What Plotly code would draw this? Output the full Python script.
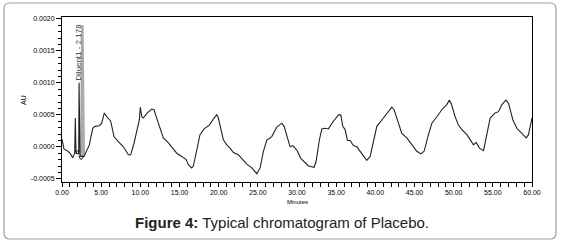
import plotly.graph_objects as go

# ---- data ----
minutes = [0, 0.26, 0.68, 1.02, 1.37, 1.62, 1.70, 1.79, 2.13, 2.18, 2.30, 2.52, 2.81, 3.15, 3.49,
           3.92, 4.21, 4.76, 5.07, 5.40, 5.71, 6.22, 6.64, 7.19, 7.83, 8.47, 8.77, 9.20, 9.62,
           9.87, 10.00, 10.18, 10.38, 10.89, 11.46, 11.75, 12.30, 12.94, 13.45, 14.01, 14.21,
           14.65, 15.29, 15.84, 16.13, 16.56, 16.77, 17.20, 17.62, 18.14, 18.81, 19.41, 19.76,
           19.96, 20.60, 21.03, 21.46, 21.88, 22.52, 23.08, 23.59, 24.23, 24.87, 25.29, 25.71,
           26.14, 26.78, 27.42, 28.06, 28.35, 28.70, 29.12, 29.46, 29.97, 30.49, 30.91, 31.46,
           32.18, 32.44, 32.86, 33.17, 33.59, 34.01, 34.65, 35.29, 35.59, 35.85, 36.14, 36.44,
           36.78, 37.20, 37.64, 38.28, 38.91, 39.34, 39.76, 40.19, 40.83, 41.47, 42.11, 42.40,
           42.95, 43.38, 44.02, 44.66, 45.30, 45.81, 46.23, 46.78, 47.22, 47.85, 48.49, 49.13,
           49.43, 49.68, 50.19, 50.61, 51.05, 51.69, 52.11, 52.53, 52.87, 53.30, 53.81, 54.24,
           54.66, 55.30, 55.72, 56.16, 56.67, 57.00, 57.56, 58.07, 58.71, 59.26, 59.55, 60.0]

au = [0.00012, -0.000036, -0.00006, -0.0001, -0.00017, -0.0001, 0.00045, -0.0001, -0.00011,
      0.0010, -0.00014, -0.00015, -0.00015, -0.00007, 0.00003, 0.00029, 0.00032, 0.00033,
      0.00037, 0.00053, 0.00047, 0.0004, 0.00016, 0.00008, 0.0, -0.000125, -0.000125, 0.00006,
      0.00032, 0.00042, 0.00062, 0.00047, 0.00045, 0.00053, 0.00059, 0.00058, 0.00037, 0.00014,
      0.00008, 0.0, -0.00002, -0.0001, -0.00015, -0.0002, -0.00028, -0.00033, -0.0003, -0.00005,
      0.00019, 0.00028, 0.00034, 0.00045, 0.0005, 0.00045, 0.00011, 0.00003, -0.00002, -0.00009,
      -0.000125, -0.0002, -0.00027, -0.00033, -0.00042, -0.00033, -0.00007, 0.0001, 0.00016,
      0.00031, 0.00037, 0.00032, 0.00016, 0.0, 0.00002, -0.00005, -0.00018, -0.00023, -0.0003,
      -0.00032, -0.00023, 0.00011, 0.00028, 0.00029, 0.00028, 0.0004, 0.0005, 0.0005, 0.00032,
      0.00027, 0.0001, 0.0001, 0.00002, 0.0, -0.0001, -0.00021, -0.00015, 0.00011, 0.00032,
      0.00042, 0.00053, 0.00062, 0.00058, 0.00037, 0.00021, 0.00014, 0.00003, -0.00007, -0.00011,
      -0.00007, 0.00019, 0.00037, 0.00047, 0.00058, 0.00066, 0.00073, 0.00068, 0.00047, 0.00034,
      0.00027, 0.00019, 0.00011, 0.00003, 0.00007, -0.00002, -0.00006, 0.00021, 0.00045, 0.00053,
      0.00055, 0.00066, 0.00073, 0.00068, 0.00042, 0.00029, 0.00021, 0.00014, 0.00019, 0.00045]

# integrated diluent peak (grey) and its baseline markers
peak_minutes = [2.45, 2.60, 2.78]
peak_au = [-0.00016, 0.0019, -0.00016]
marker_minutes = [1.98, 2.45]
marker_au = [-0.00008, -0.00017]
peak_label = "Diluent1 - 2.178"
peak_label_x = 2.0
peak_label_y = 0.00148

x_ticks = [0, 5, 10, 15, 20, 25, 30, 35, 40, 45, 50, 55, 60]
x_ticklabels = ["%.2f" % v for v in x_ticks]
y_ticks = [-0.0005, 0.0, 0.0005, 0.0010, 0.0015, 0.0020]
y_ticklabels = ["-0.0005", "0.0000", "0.0005", "0.0010", "0.0015", "0.0020"]

caption_bold = "Figure 4:"
caption_text = " Typical chromatogram of Placebo."

# ---- figure ----
fig = go.Figure()
fig.add_trace(go.Scatter(x=peak_minutes, y=peak_au, mode="lines",
                         line=dict(color="#aaaaaa", width=2.5), hoverinfo="skip"))
fig.add_trace(go.Scatter(x=minutes, y=au, mode="lines",
                         line=dict(color="#222222", width=1.1)))
fig.add_trace(go.Scatter(x=marker_minutes, y=marker_au, mode="markers",
                         marker=dict(symbol="triangle-down-open", size=4,
                                     color="#222222", line=dict(width=1))))

W, H = 561, 245
L, R, T, B = 62, 29, 17, 63
pw, ph = W - L - R, H - T - B

def px2x(px):
    return (px - L) / pw

def py2y(py):
    return (H - B - py) / ph

tick_font = dict(family="Liberation Sans, Arial", size=7, color="#000000")

fig.update_layout(
    width=W, height=H,
    margin=dict(l=L, r=R, t=T, b=B),
    paper_bgcolor="white", plot_bgcolor="white",
    showlegend=False,
    xaxis=dict(range=[0, 60], tickvals=x_ticks, ticktext=x_ticklabels,
               showgrid=False, zeroline=False, showline=True, linecolor="black",
               linewidth=1, mirror=True, ticks="outside", ticklen=4, tickcolor="black",
               tickfont=tick_font,
               minor=dict(dtick=1, ticks="outside", ticklen=4, tickcolor="black")),
    yaxis=dict(range=[-0.00055, 0.00203], tickvals=y_ticks, ticktext=y_ticklabels,
               showgrid=False, zeroline=False, showline=True, linecolor="black",
               linewidth=1, mirror=True, ticks="outside", ticklen=5, tickcolor="black",
               tickfont=tick_font,
               minor=dict(dtick=0.0001, ticks="outside", ticklen=3, tickcolor="black")),
)

# peak label
fig.add_annotation(x=peak_label_x, y=peak_label_y, text=peak_label, textangle=-90,
                   showarrow=False, font=dict(family="Liberation Sans, Arial", size=8,
                                              color="#333333"))
# axis titles
fig.add_annotation(xref="paper", yref="paper", x=px2x(297), y=py2y(201.5), text="Minutes",
                   showarrow=False, xanchor="center", yanchor="middle",
                   font=dict(family="Liberation Sans, Arial", size=6, color="#000000"))
fig.add_annotation(xref="paper", yref="paper", x=px2x(23), y=py2y(100), text="AU",
                   textangle=-90, showarrow=False, xanchor="center", yanchor="middle",
                   font=dict(family="Liberation Sans, Arial", size=7, color="#000000"))
# caption
fig.add_annotation(xref="paper", yref="paper", x=px2x(282), y=py2y(222),
                   text="<b>" + caption_bold + "</b>" + caption_text, showarrow=False,
                   xanchor="center", yanchor="middle",
                   font=dict(family="Liberation Sans, Arial", size=15, color="#222222"))

# rounded outer frame
x0, x1 = px2x(4), px2x(556)
y0, y1 = py2y(239), py2y(3)
rx, ry = 6 / pw, 6 / ph
path = (f"M {x0+rx},{y1} L {x1-rx},{y1} Q {x1},{y1} {x1},{y1-ry} "
        f"L {x1},{y0+ry} Q {x1},{y0} {x1-rx},{y0} L {x0+rx},{y0} "
        f"Q {x0},{y0} {x0},{y0+ry} L {x0},{y1-ry} Q {x0},{y1} {x0+rx},{y1} Z")
fig.add_shape(type="path", xref="paper", yref="paper", path=path,
              line=dict(color="#a0a0a0", width=1.2), layer="below")

fig.write_html("out.html", config={"displayModeBar": False},
               post_script="document.body.style.margin='0';"
                           "document.body.style.padding='0';"
                           "document.body.style.overflow='hidden';")
